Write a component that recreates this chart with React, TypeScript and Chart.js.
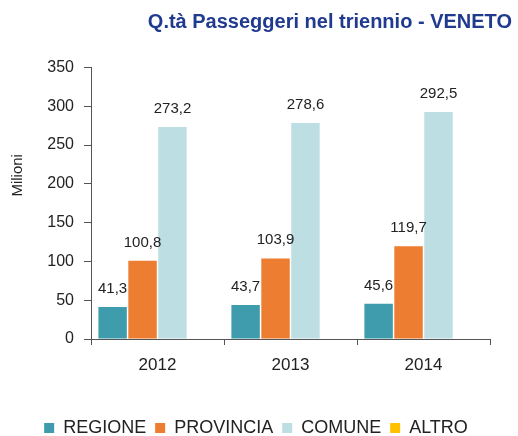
import React, { useEffect, useRef } from "react";
import { Chart, registerables } from "chart.js";

Chart.register(...registerables);

const categories = ["2012", "2013", "2014"];
const regione = [41.3, 43.7, 45.6];
const provincia = [100.8, 103.9, 119.7];
const comune = [273.2, 278.6, 292.5];
const altro: (number | null)[] = [null, null, null];
const yTicks = [0, 50, 100, 150, 200, 250, 300, 350];
const yTitle = "Milioni";

const fmt = (v: number) => v.toFixed(1).replace(".", ",");
const FONT = "'Liberation Sans', Arial, sans-serif";

const labelPlugin = {
  id: "barLabels",
  afterDatasetsDraw(chart: any) {
    const ctx = chart.ctx;
    ctx.save();
    ctx.font = "15px " + FONT;
    ctx.fillStyle = "#222";
    ctx.textAlign = "center";
    ctx.textBaseline = "alphabetic";
    chart.data.datasets.forEach((ds: any, i: number) => {
      const meta = chart.getDatasetMeta(i);
      meta.data.forEach((bar: any, j: number) => {
        const v = ds.data[j];
        if (v === null || v === undefined) return;
        ctx.fillText(fmt(v), bar.x, bar.y - 14);
      });
    });
    // y axis title, placed higher than the axis centre as in the reference
    const y = chart.scales.y;
    ctx.translate(18, y.getPixelForValue(211));
    ctx.rotate(-Math.PI / 2);
    ctx.font = "15px " + FONT;
    ctx.textBaseline = "middle";
    ctx.fillText(yTitle, 0, 0);
    ctx.restore();
  },
};

const W = 518;
const H = 447;

export default function App() {
  const ref = useRef<HTMLCanvasElement>(null);
  useEffect(() => {
    if (!ref.current) return;
    const chart = new Chart(ref.current, {
      type: "bar",
      data: {
        labels: categories,
        datasets: [
          { label: "REGIONE", data: regione, backgroundColor: "#3E9CAC" },
          { label: "PROVINCIA", data: provincia, backgroundColor: "#ED7D31" },
          { label: "COMUNE", data: comune, backgroundColor: "#BDDEE3" },
          { label: "ALTRO", data: altro, backgroundColor: "#FFC000" },
        ],
      },
      options: {
        animation: false,
        responsive: false,
        maintainAspectRatio: false,
        layout: { padding: { left: 0, right: 6, top: 0, bottom: 0 } },
        datasets: { bar: { barPercentage: 0.95, categoryPercentage: 0.9 } },
        plugins: {
          title: {
            display: true,
            text: "Q.tà Passeggeri nel triennio - VENETO",
            align: "end",
            color: "#1F3A8F",
            font: { family: FONT, size: 20, weight: "bold" },
            padding: { top: 10, bottom: 33.5 },
          },
          legend: {
            position: "bottom",
            labels: {
              boxWidth: 10,
              boxHeight: 10,
              padding: 9,
              color: "#222",
              font: { family: FONT, size: 18 },
            },
          },
          tooltip: { enabled: false },
        },
        scales: {
          x: {
            grid: {
              display: true,
              drawOnChartArea: false,
              drawTicks: true,
              tickLength: 6,
              color: "#555",
            },
            border: { display: true, color: "#555" },
            ticks: { color: "#222", font: { family: FONT, size: 17 }, padding: 10 },
            afterFit: (s: any) => {
              s.height = 71;
            },
          },
          y: {
            min: 0,
            max: 350,
            afterBuildTicks: (s: any) => {
              s.ticks = yTicks.map((v) => ({ value: v }));
            },
            grid: {
              display: true,
              drawOnChartArea: false,
              drawTicks: true,
              tickLength: 7,
              color: "#555",
            },
            border: { display: true, color: "#555" },
            ticks: { color: "#222", font: { family: FONT, size: 16 }, padding: 10 },
            afterFit: (s: any) => {
              s.width = 91;
            },
          },
          yR: {
            position: "right",
            display: true,
            grid: { display: false, drawTicks: false },
            border: { display: false },
            ticks: { display: false },
            afterFit: (s: any) => {
              s.width = 22;
            },
          },
        },
      },
      plugins: [labelPlugin],
    } as any);
    return () => chart.destroy();
  }, []);
  return (
    <div style={{ position: "fixed", left: 0, top: 0, width: W, height: 436, overflow: "hidden", background: "#fff" }}>
      <canvas ref={ref} width={W} height={H} style={{ width: W, height: H, display: "block" }} />
    </div>
  );
}
